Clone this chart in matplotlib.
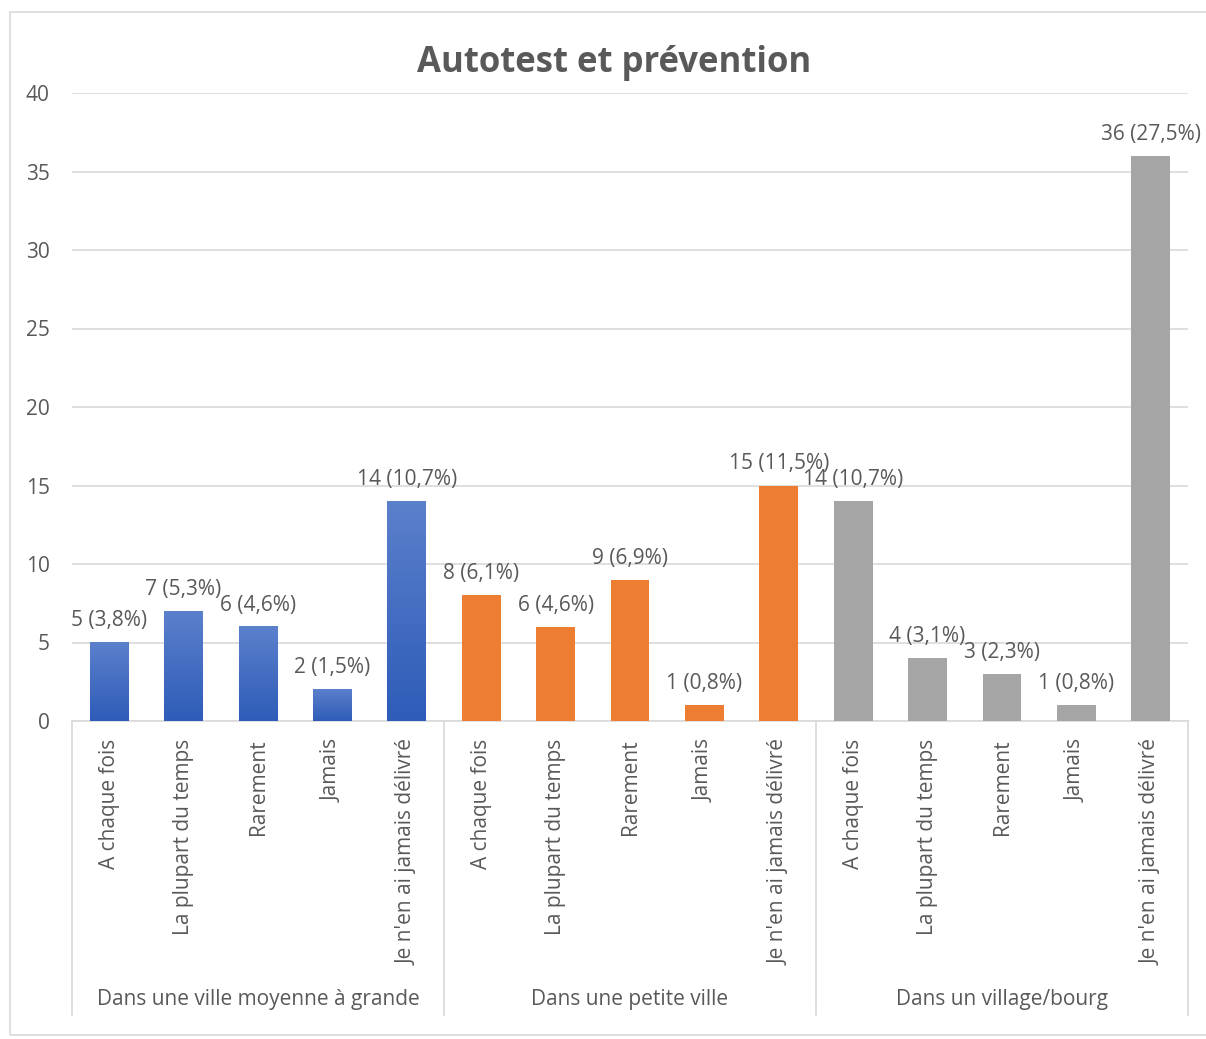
import matplotlib.pyplot as plt
import numpy as np
from matplotlib.patches import Rectangle
from matplotlib.colors import LinearSegmentedColormap

# categories and values
groups = ["Dans une ville moyenne à grande", "Dans une petite ville", "Dans un village/bourg"]
answers = ["A chaque fois", "La plupart du temps", "Rarement", "Jamais", "Je n'en ai jamais délivré"]
ville = [5, 7, 6, 2, 14]
petite_ville = [8, 6, 9, 1, 15]
village = [14, 4, 3, 1, 36]
pct_ville = ["3,8", "5,3", "4,6", "1,5", "10,7"]
pct_petite = ["6,1", "4,6", "6,9", "0,8", "11,5"]
pct_village = ["10,7", "3,1", "2,3", "0,8", "27,5"]

colors = ["#4472C4", "#ED7D31", "#A5A5A5"]
text_col = "#595959"
grid_col = "#D9D9D9"

plt.rcParams['font.family'] = ['Open Sans', 'DejaVu Sans']

fig = plt.figure(figsize=(12.06, 10.39), dpi=100)
fig.patches.append(Rectangle((10/1206, 1 - 1035/1039), 1.2, (1035 - 12)/1039,
                             transform=fig.transFigure, fill=False,
                             edgecolor=grid_col, linewidth=1.2))
ax = fig.add_axes([72/1206, 1 - 721/1039, (1188 - 72)/1206, (721 - 93)/1039])

series = [ville, petite_ville, village]
pcts = [pct_ville, pct_petite, pct_village]
n = len(answers)
blue_map = LinearSegmentedColormap.from_list("b", ["#2E5CB8", "#5B80CC"])

for g, (vals, pc) in enumerate(zip(series, pcts)):
    x = np.arange(n) + g * n
    bars = ax.bar(x, vals, width=0.52, color=colors[g], zorder=3)
    if g == 0:
        # gradient fill like the Excel blue bars
        for b in bars:
            b.set_facecolor("none")
            grad = np.linspace(0, 1, 100).reshape(-1, 1)
            ax.imshow(grad, cmap=blue_map, origin="lower", aspect="auto",
                      extent=[b.get_x(), b.get_x() + b.get_width(), 0, b.get_height()],
                      zorder=3)
    labels = [f"{v} ({p}%)" for v, p in zip(vals, pc)]
    ax.bar_label(bars, labels=labels, padding=8, fontsize=15, color=text_col)

ax.set_xlim(-0.5, 3 * n - 0.5)
ax.set_ylim(0, 40)
ax.set_yticks(range(0, 41, 5))
ax.yaxis.grid(True, color=grid_col, linewidth=1.2, zorder=0)
ax.set_axisbelow(True)
for s in ["top", "right", "left"]:
    ax.spines[s].set_visible(False)
ax.spines["bottom"].set_color(grid_col)
ax.spines["bottom"].set_linewidth(1.2)
ax.tick_params(axis="y", length=0, pad=16, labelsize=15, labelcolor=text_col)
ax.set_xticks(range(3 * n))
ax.set_xticklabels(answers * 3, rotation=90, fontsize=15, color=text_col)
ax.tick_params(axis="x", length=0, pad=13)

# group separators and group labels
trans = ax.get_xaxis_transform()
for k in range(4):
    xs = k * n - 0.5
    ax.plot([xs, xs], [0, -0.468], transform=trans, color=grid_col,
            linewidth=1.2, clip_on=False)
for g, name in enumerate(groups):
    ax.text(g * n + (n - 1) / 2, -0.444, name, transform=trans, ha="center",
            va="center", fontsize=15, color=text_col)

fig.text(0.509, 1 - 63/1039, "Autotest et prévention", ha="center", va="center",
         fontsize=25, fontweight="bold", color=text_col)

fig.savefig("out.png", dpi=100)
